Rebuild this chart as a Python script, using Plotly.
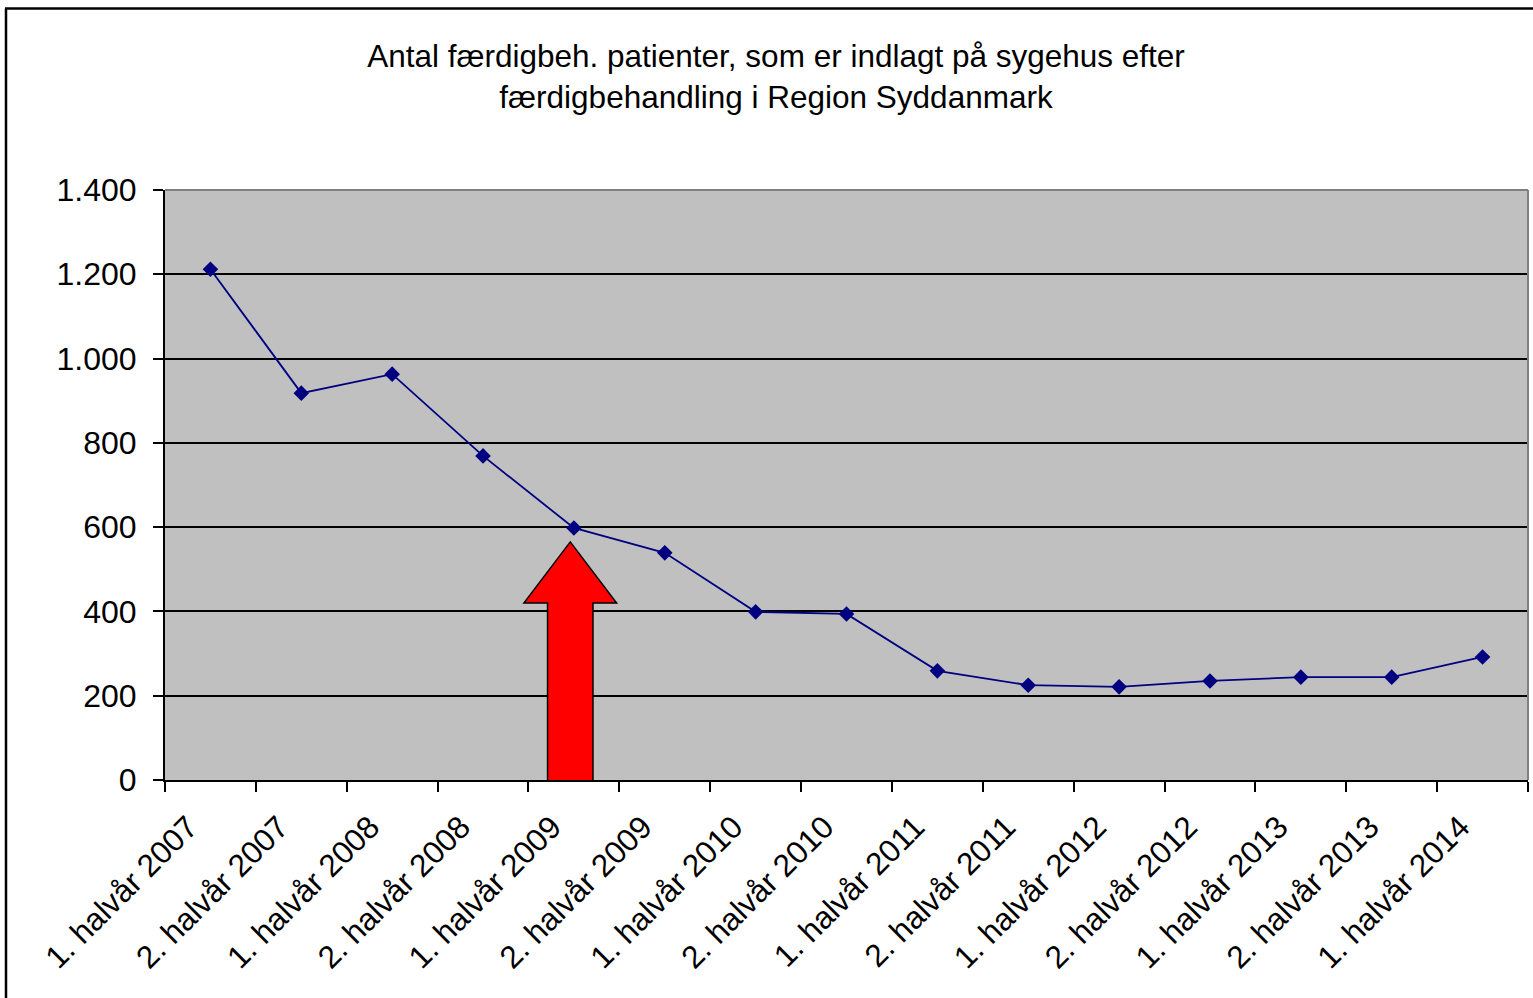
import plotly.graph_objects as go

categories = [
    "1. halvår 2007", "2. halvår 2007", "1. halvår 2008", "2. halvår 2008",
    "1. halvår 2009", "2. halvår 2009", "1. halvår 2010", "2. halvår 2010",
    "1. halvår 2011", "2. halvår 2011", "1. halvår 2012", "2. halvår 2012",
    "1. halvår 2013", "2. halvår 2013", "1. halvår 2014",
]
values = [1212, 918, 963, 769, 598, 539, 399, 394, 259, 225, 221, 235, 244, 244, 292]
title_lines = ["Antal færdigbeh. patienter, som er indlagt på sygehus efter",
               "færdigbehandling i Region Syddanmark"]

FONT = "Arial, Liberation Sans, sans-serif"
W, H = 1533, 998
L, R, T, B = 165, 5, 190, 218
pw, ph = W - L - R, H - T - B

def px_x(px):
    return (px - L) / pw

def px_y(py):
    return (H - B - py) / ph

fig = go.Figure()
fig.add_trace(go.Scatter(
    x=categories, y=values, mode="lines+markers",
    line=dict(color="#000080", width=1.8),
    marker=dict(symbol="diamond", size=12, color="#000080"),
    showlegend=False, cliponaxis=False,
))

# arrow pointing to "1. halvår 2009"
ci = categories.index("1. halvår 2009")
tip_y, head_y, bot_y = 565, 420, -10
ax = ci - 0.04
arrow_path = (
    f"M {ax-0.25} {bot_y} L {ax-0.25} {head_y} L {ax-0.51} {head_y} "
    f"L {ax} {tip_y} L {ax+0.51} {head_y} L {ax+0.25} {head_y} L {ax+0.25} {bot_y} Z"
)
shapes = [
    dict(type="path", xref="x", yref="y", path=arrow_path,
         fillcolor="#FF0000", line=dict(color="black", width=1.5), layer="above"),
    # plot-area gray border (top & right)
    dict(type="line", xref="paper", yref="paper", x0=0, x1=1, y0=1, y1=1,
         line=dict(color="#808080", width=2)),
    dict(type="line", xref="paper", yref="paper", x0=1, x1=1, y0=0, y1=1,
         line=dict(color="#808080", width=2)),
    # outer chart frame
    dict(type="line", xref="paper", yref="paper", x0=px_x(6), x1=px_x(6),
         y0=px_y(1010), y1=px_y(8.5), line=dict(color="black", width=2.5)),
    dict(type="line", xref="paper", yref="paper", x0=px_x(5), x1=px_x(1545),
         y0=px_y(8.5), y1=px_y(8.5), line=dict(color="black", width=2.5)),
]

fig.update_layout(
    width=W, height=H,
    margin=dict(l=L, r=R, t=T, b=B, pad=0),
    paper_bgcolor="white", plot_bgcolor="#C0C0C0",
    separators=",.",
    font=dict(family=FONT, color="black", size=31),
    title=dict(text="<br>".join(title_lines), x=776 / W,
               xanchor="center", y=1 - 67 / H, yanchor="top",
               font=dict(family=FONT, size=31.5, color="black")),
    shapes=shapes,
)
fig.update_xaxes(
    type="category", range=[-0.5, len(categories) - 0.5],
    tickson="boundaries", ticks="outside", ticklen=10, tickwidth=2, tickcolor="black",
    showline=True, linecolor="black", linewidth=2,
    showgrid=False, tickangle=-45, tickfont=dict(size=31.5, family=FONT),
    ticklabelshift=-22, ticklabelstandoff=14,
)
fig.update_yaxes(
    range=[0, 1400], dtick=200, tickformat=",d",
    ticks="outside", ticklen=10, tickwidth=2, tickcolor="black",
    showline=True, linecolor="black", linewidth=2,
    showgrid=True, gridcolor="black", gridwidth=2, zeroline=False,
    tickfont=dict(size=32, family=FONT), ticklabelstandoff=10,
)

fig.write_html("out.html", config={"displayModeBar": False},
               post_script="document.body.style.margin='0';document.body.style.overflow='hidden';")
